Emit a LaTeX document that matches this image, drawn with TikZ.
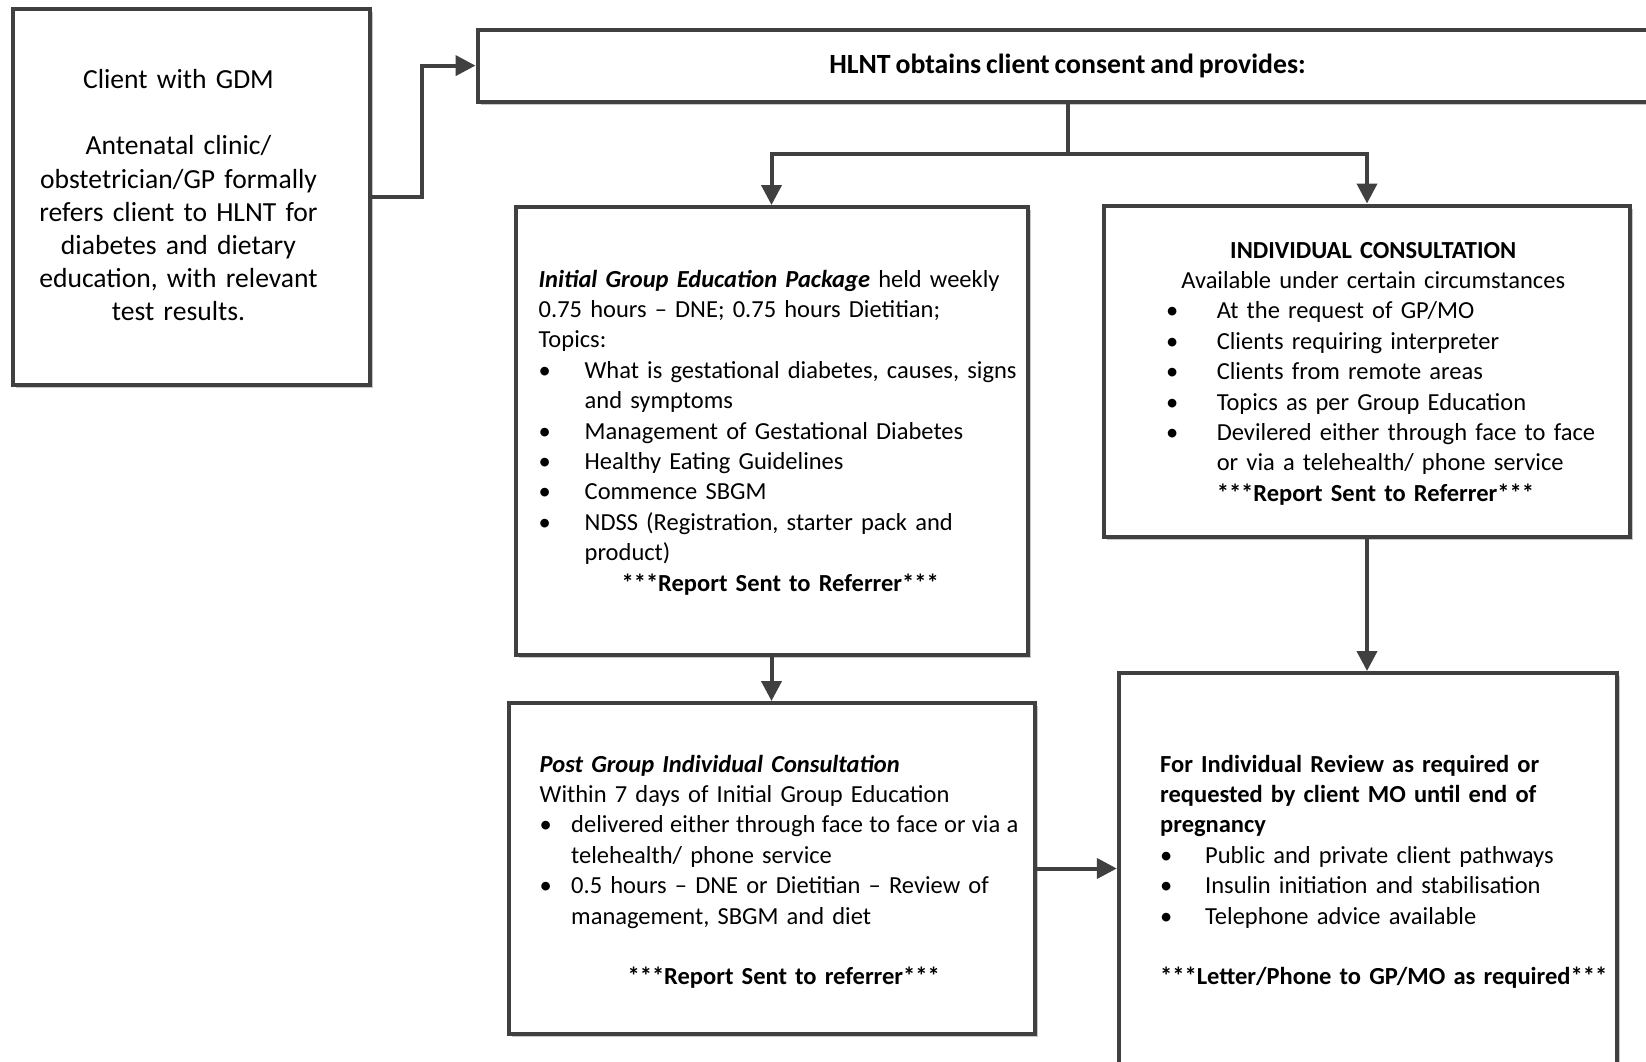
\documentclass[tikz,border=0pt]{standalone}
\usepackage{fontspec}
\setmainfont{Carlito}[WordSpace=0.78]
\usetikzlibrary{arrows.meta,shadows}
\definecolor{edge}{HTML}{404040}
\newcommand\bi[1]{\makebox[#1][l]{\textbullet}}
\begin{document}
\begin{tikzpicture}[x=1pt,y=-1pt,
  box/.style={draw=edge, line width=4pt, fill=white, rectangle, inner sep=0pt,
    drop shadow={shadow xshift=3pt, shadow yshift=-3pt, fill=black!22, opacity=1}},
  txt/.style={inner sep=0pt, text width=620pt, align=left,
    font=\fontsize{24.5}{30.4}\selectfont},
  wire/.style={draw=edge, line width=4pt},
  conn/.style={wire, -{Triangle[length=20pt,width=20pt]}}]
\useasboundingbox (0,0) rectangle (1646,1062);
\clip (0,0) rectangle (1646,1062);

% boxes
\node[box, minimum width=357pt, minimum height=376pt] (b1) at (191,196.7) {};
\node[box, minimum width=1180pt, minimum height=72pt] (b2) at (1067.5,65.6) {};
\node[box, minimum width=512pt, minimum height=448pt] (b3) at (771.5,431) {};
\node[box, minimum width=526pt, minimum height=331pt] (b4) at (1367,371) {};
\node[box, minimum width=526pt, minimum height=331pt] (b5) at (772,868.5) {};
\node[box, minimum width=498pt, minimum height=393pt] (b6) at (1367.8,869.5) {};

% texts
\node[inner sep=0pt, anchor=base, text width=340pt, align=center,
  font=\fontsize{27.6}{33.2}\selectfont] (t1) at (178.5,88.5)
  {Client with GDM\\[33.2pt]
   Antenatal clinic/\\
   obstetrician/GP formally\\
   refers client to HLNT for\\
   diabetes and dietary\\
   education, with relevant\\
   test results.};

\node[inner sep=0pt, anchor=base, font=\bfseries\fontsize{27.8}{30}\selectfont] (t2)
  at (1067.5,73.5) {HLNT obtains client consent and provides:};

\node[txt, anchor=base west] (t3) at (538.5,287)
  {\textbf{\textit{Initial Group Education Package}} held weekly\newline
   0.75 hours – DNE; 0.75 hours Dietitian;\newline
   Topics:\newline
   \bi{46pt}What is gestational diabetes, causes, signs\newline
   \hspace*{46pt}and symptoms\newline
   \bi{46pt}Management of Gestational Diabetes\newline
   \bi{46pt}Healthy Eating Guidelines\newline
   \bi{46pt}Commence SBGM\newline
   \bi{46pt}NDSS (Registration, starter pack and\newline
   \hspace*{46pt}product)\newline
   \hspace*{241.5pt}\makebox[0pt][c]{\textbf{***Report Sent to Referrer***}}};

\node[txt, anchor=base west] (t4) at (1166,258)
  {\hspace*{207pt}\makebox[0pt][c]{\textbf{INDIVIDUAL CONSULTATION}}\newline
   \hspace*{207pt}\makebox[0pt][c]{Available under certain circumstances}\newline
   \bi{50.6pt}At the request of GP/MO\newline
   \bi{50.6pt}Clients requiring interpreter\newline
   \bi{50.6pt}Clients from remote areas\newline
   \bi{50.6pt}Topics as per Group Education\newline
   \bi{50.6pt}Devilered either through face to face\newline
   \hspace*{50.6pt}or via a telehealth/ phone service\newline
   \hspace*{50.6pt}\textbf{***Report Sent to Referrer***}};

\node[txt, anchor=base west] (t5) at (539.5,772)
  {\textbf{\textit{Post Group Individual Consultation}}\newline
   Within 7 days of Initial Group Education\newline
   \bi{31.5pt}{\spaceskip=6.3pt\relax delivered either through face to face or via a}\newline
   \hspace*{31.5pt}telehealth/ phone service\newline
   \bi{31.5pt}0.5 hours – DNE or Dietitian – Review of\newline
   \hspace*{31.5pt}management, SBGM and diet\newline
   \mbox{}\newline
   \hspace*{244pt}\makebox[0pt][c]{\textbf{***Report Sent to referrer***}}};

\node[txt, anchor=base west] (t6) at (1160,772)
  {\textbf{For Individual Review as required or}\newline
   \textbf{requested by client MO until end of}\newline
   \textbf{pregnancy}\newline
   \bi{45pt}Public and private client pathways\newline
   \bi{45pt}Insulin initiation and stabilisation\newline
   \bi{45pt}Telephone advice available\newline
   \mbox{}\newline
   \textbf{***Letter/Phone to GP/MO as required***}};

% connectors
\draw[conn] (b1.east) -- ++(50,0) |- (b2.west);
\coordinate (split) at (1067.5,154);
\draw[wire] (b2.south) -- (split);
\draw[conn] (split) -| (b3.north);
\draw[conn] (split) -| (b4.north);
\draw[conn] (b3.south) -- (b3.south |- b5.north);
\draw[conn] (b4.south) -- (b4.south |- b6.north);
\draw[conn] (b5.east) -- (b5.east -| b6.west);
\end{tikzpicture}
\end{document}
